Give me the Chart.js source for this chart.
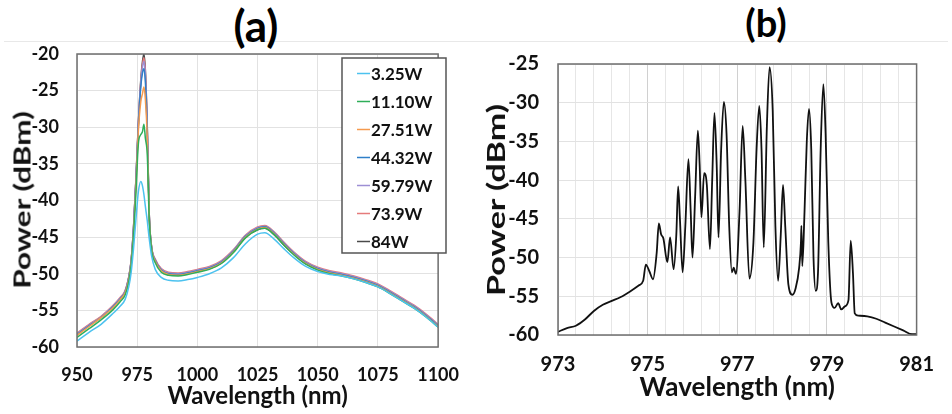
<!DOCTYPE html>
<html>
<head>
<meta charset="utf-8">
<script src="https://cdn.jsdelivr.net/npm/chart.js@4/dist/chart.umd.min.js"></script>
<style>
  body { margin: 0; background: #fff; width: 952px; height: 414px; overflow: hidden; position: relative; font-family: Lato, sans-serif; }
  .panel { position: absolute; top: 0; width: 476px; height: 414px; }
  .ttl { position: absolute; font-weight: 700; line-height: 1; color: #000; transform: translateX(-50%); }
  .ytl { position: absolute; font-weight: 700; line-height: 1; color: #111; white-space: nowrap; }
  .rule { position: absolute; top: 41px; height: 1px; background: #e8e8e8; }
</style>
</head>
<body>
<div class="rule" style="left:4px;width:944px"></div>
<div class="ttl" style="left:256px;top:3px;font-size:44px">(a)</div>
<div class="ttl" style="left:766px;top:3px;font-size:38px">(b)</div>
<div class="panel" style="left:0"><canvas id="chartA"></canvas></div>
<div class="panel" style="left:476px"><canvas id="chartB"></canvas></div>
<div class="ytl" id="ytitleA" style="left:22px;top:200px;font-size:23px;transform:translate(-50%,-50%) rotate(-90deg) scaleX(1.37)">Power (dBm)</div>
<div class="ytl" id="ytitleB" style="left:496px;top:200px;font-size:24px;transform:translate(-50%,-50%) rotate(-90deg) scaleX(1.42)">Power (dBm)</div>
<script>
// (a) spectra at different pump powers
var wlA = [950, 955, 960, 965, 968, 970, 971.5, 972.5, 973.5, 974.5, 975.5, 976.5, 977.2, 977.8, 978.4, 979.2, 980, 981, 982.5, 985, 988, 992, 996, 1000, 1005, 1010, 1015, 1020, 1025, 1028, 1032, 1036, 1040, 1045, 1050, 1055, 1060, 1065, 1070, 1075, 1080, 1085, 1090, 1095, 1100];
var powerLabels = ["3.25W", "11.10W", "27.51W", "44.32W", "59.79W", "73.9W", "84W"];
var powerColors = ["#4cc2ef", "#2fae58", "#f59a4e", "#2f7fc8", "#9d8fd4", "#e57b7b", "#4a4a4a"];
var p325 = [-59.2, -58.0, -56.9, -55.4, -54.4, -53.5, -51.8, -49.8, -46.5, -42.5, -38.8, -37.4, -38.0, -39.2, -40.8, -42.8, -45.2, -47.6, -49.4, -50.5, -50.9, -51.0, -50.8, -50.5, -50.0, -49.2, -47.8, -45.9, -44.6, -44.4, -45.3, -46.6, -47.8, -49.0, -49.7, -50.1, -50.3, -50.7, -51.2, -51.8, -52.7, -53.7, -54.7, -55.9, -57.3];
var p1110 = [-58.7, -57.5, -56.3, -54.9, -53.8, -52.9, -51.1, -48.8, -44.8, -38.8, -32.2, -31.0, -30.6, -29.6, -31.5, -33.8, -42.5, -46.8, -48.5, -49.8, -50.2, -50.3, -50.1, -49.8, -49.4, -48.6, -47.1, -45.1, -44.0, -43.8, -44.7, -46.1, -47.4, -48.7, -49.5, -50.0, -50.3, -50.7, -51.2, -51.8, -52.7, -53.7, -54.7, -55.9, -57.3];
var p2751 = [-58.4, -57.2, -56.0, -54.6, -53.5, -52.6, -50.8, -48.5, -44.3, -37.8, -30.4, -26.5, -25.4, -24.5, -26.2, -31.5, -42.2, -46.6, -48.3, -49.6, -50.1, -50.2, -50.0, -49.7, -49.3, -48.5, -47.0, -45.0, -43.9, -43.7, -44.6, -46.0, -47.3, -48.6, -49.4, -49.9, -50.2, -50.6, -51.1, -51.7, -52.6, -53.6, -54.6, -55.8, -57.2];
var p4432 = [-58.3, -57.1, -56.0, -54.5, -53.4, -52.5, -50.6, -48.3, -43.8, -37.2, -29.8, -24.4, -22.6, -22.0, -23.8, -30.8, -42.0, -46.5, -48.2, -49.5, -50.0, -50.1, -49.9, -49.6, -49.2, -48.4, -46.9, -44.9, -43.8, -43.6, -44.5, -45.9, -47.2, -48.5, -49.3, -49.8, -50.1, -50.5, -51.0, -51.6, -52.5, -53.5, -54.5, -55.7, -57.1];
var p5979 = [-58.2, -57.0, -55.9, -54.4, -53.3, -52.4, -50.5, -48.2, -43.6, -37.0, -29.5, -24.0, -21.8, -21.0, -23.0, -30.5, -41.9, -46.4, -48.1, -49.4, -49.9, -50.0, -49.8, -49.5, -49.1, -48.3, -46.8, -44.8, -43.7, -43.5, -44.4, -45.8, -47.1, -48.4, -49.2, -49.7, -50.0, -50.4, -50.9, -51.5, -52.4, -53.4, -54.4, -55.6, -57.0];
var p739 = [-58.1, -56.9, -55.8, -54.3, -53.2, -52.3, -50.4, -48.1, -43.5, -36.8, -29.3, -23.8, -21.4, -20.5, -22.6, -30.3, -41.8, -46.3, -48.0, -49.3, -49.8, -49.9, -49.7, -49.4, -49.0, -48.2, -46.7, -44.7, -43.6, -43.4, -44.3, -45.7, -47.0, -48.3, -49.1, -49.6, -49.9, -50.3, -50.8, -51.4, -52.3, -53.3, -54.3, -55.5, -56.9];
var p84 = [-58.2, -57.0, -55.9, -54.4, -53.4, -52.4, -50.5, -48.2, -43.6, -37.0, -29.4, -23.5, -21.0, -20.0, -22.2, -30.0, -41.8, -46.4, -48.1, -49.4, -49.9, -50.1, -49.9, -49.7, -49.3, -48.5, -47.0, -45.0, -44.0, -43.8, -44.7, -46.1, -47.3, -48.6, -49.4, -49.9, -50.2, -50.6, -51.1, -51.7, -52.6, -53.6, -54.6, -55.8, -57.2];
var powerSeries = [p325, p1110, p2751, p4432, p5979, p739, p84];
var ticksXA = [950, 975, 1000, 1025, 1050, 1075, 1100];

// (b) multi-wavelength output
var wlB = [973.0, 973.2, 973.4, 973.6, 973.8, 974.0, 974.2, 974.4, 974.6, 974.8, 974.9, 974.96, 975.04, 975.12, 975.2, 975.25, 975.3, 975.35, 975.44, 975.5, 975.58, 975.64, 975.68, 975.72, 975.78, 975.84, 975.91, 975.96, 976.0, 976.06, 976.12, 976.16, 976.2, 976.26, 976.32, 976.39, 976.44, 976.49, 976.54, 976.58, 976.64, 976.7, 976.76, 976.82, 976.88, 976.92, 976.97, 977.05, 977.12, 977.18, 977.27, 977.36, 977.43, 977.49, 977.54, 977.59, 977.66, 977.72, 977.79, 977.85, 977.91, 977.97, 978.02, 978.07, 978.14, 978.23, 978.3, 978.38, 978.42, 978.43, 978.45, 978.5, 978.55, 978.6, 978.65, 978.7, 978.75, 978.8, 978.86, 978.92, 978.97, 979.03, 979.1, 979.17, 979.25, 979.32, 979.4, 979.48, 979.53, 979.58, 979.62, 979.7, 979.9, 980.1, 980.3, 980.5, 980.7, 980.9, 981.0];
var pwrB = [-59.6, -59.1, -58.8, -58.0, -56.9, -56.1, -55.6, -55.1, -54.4, -53.6, -53.0, -50.9, -51.8, -52.8, -49.5, -45.6, -47.0, -47.5, -50.6, -47.4, -51.5, -47.0, -40.8, -45.0, -51.9, -46.0, -37.3, -44.0, -50.0, -42.0, -33.6, -38.0, -44.8, -39.1, -40.6, -48.9, -40.0, -31.3, -38.0, -47.4, -36.0, -29.9, -34.0, -46.0, -51.9, -51.3, -52.1, -44.0, -33.0, -40.0, -52.7, -48.0, -36.0, -30.4, -36.0, -48.7, -33.0, -25.4, -31.0, -46.0, -53.0, -47.0, -40.6, -46.0, -53.5, -54.8, -54.0, -51.3, -48.0, -45.9, -51.1, -44.0, -35.0, -30.8, -36.0, -50.0, -54.3, -52.0, -36.0, -27.6, -34.0, -48.0, -55.8, -56.5, -55.9, -56.7, -56.3, -55.5, -47.8, -52.0, -57.2, -57.5, -57.6, -57.9, -58.4, -58.9, -59.4, -59.9, -59.9];

var FONT = "Lato, 'Open Sans', sans-serif";
var INK = "#111";

function toPoints(xs, ys) {
  return xs.map(function (x, i) { return { x: x, y: ys[i] }; });
}

// dark frame round the plot area
var frame = {
  id: 'frame',
  afterDraw: function (chart) {
    var a = chart.chartArea, ctx = chart.ctx;
    ctx.save();
    ctx.strokeStyle = '#6e6e6e';
    ctx.lineWidth = 1.5;
    ctx.strokeRect(a.left, a.top, a.right - a.left, a.bottom - a.top);
    ctx.restore();
  }
};

// legend box inside panel (a)
var legendBox = {
  id: 'legendBox',
  afterDraw: function (chart) {
    var ctx = chart.ctx;
    ctx.save();
    ctx.fillStyle = '#fff';
    ctx.fillRect(342, 58, 104, 195);
    ctx.strokeStyle = '#555';
    ctx.lineWidth = 1.5;
    ctx.strokeRect(342, 58, 104, 195);
    ctx.font = "bold 17px " + FONT;
    ctx.textBaseline = 'middle';
    chart.data.datasets.forEach(function (ds, i) {
      var y = 73.5 + i * 28;
      ctx.strokeStyle = ds.borderColor;
      ctx.lineWidth = 1.5;
      ctx.beginPath();
      ctx.moveTo(357, y);
      ctx.lineTo(370, y);
      ctx.stroke();
      ctx.fillStyle = INK;
      ctx.fillText(ds.label, 371, y + 1);
    });
    ctx.restore();
  }
};

var datasetsA = powerLabels.map(function (label, i) {
  return {
    label: label,
    data: toPoints(wlA, powerSeries[i]),
    borderColor: powerColors[i],
    borderWidth: 1.5,
    pointRadius: 0,
    cubicInterpolationMode: 'monotone',
    fill: false
  };
});

new Chart(document.getElementById('chartA'), {
  type: 'line',
  data: { datasets: datasetsA },
  options: {
    responsive: true,
    maintainAspectRatio: false,
    animation: false,
    layout: { padding: { left: 0, right: 27, top: 54, bottom: 0 } },
    plugins: { legend: { display: false }, tooltip: { enabled: false } },
    scales: {
      x: {
        type: 'linear', min: 950, max: 1100,
        afterBuildTicks: function (s) { s.ticks = ticksXA.map(function (v) { return { value: v }; }); },
        afterFit: function (s) { s.height = 67; },
        ticks: {
          padding: 17, color: INK, maxRotation: 0, autoSkip: false,
          font: { family: FONT, size: 18, weight: 'bold' },
          callback: function (v) { return String(v); }
        },
        grid: { color: '#e2e2e2', drawTicks: false },
        border: { display: false },
        title: { display: true, text: 'Wavelength (nm)', color: INK, padding: { top: 0, bottom: 3 }, font: { family: FONT, size: 24, weight: 'bold' } }
      },
      y: {
        min: -60, max: -20,
        afterFit: function (s) { s.width = 77; },
        ticks: { stepSize: 5, padding: 18, color: INK, font: { family: FONT, size: 18, weight: 'bold' } },
        grid: { color: '#e2e2e2', drawTicks: false },
        border: { display: false }
      }
    }
  },
  plugins: [frame, legendBox]
});

new Chart(document.getElementById('chartB'), {
  type: 'line',
  data: {
    datasets: [{
      label: 'Output',
      data: toPoints(wlB, pwrB),
      borderColor: '#111',
      borderWidth: 1.8,
      pointRadius: 0,
      cubicInterpolationMode: 'monotone',
      fill: false
    }]
  },
  options: {
    responsive: true,
    maintainAspectRatio: false,
    animation: false,
    layout: { padding: { left: 0, right: 19, top: 64, bottom: 0 } },
    plugins: { legend: { display: false }, tooltip: { enabled: false } },
    scales: {
      x: {
        type: 'linear', min: 973, max: 981,
        afterFit: function (s) { s.height = 79; },
        ticks: {
          stepSize: 0.4, padding: 18, color: INK, maxRotation: 0, autoSkip: false,
          font: { family: FONT, size: 20, weight: 'bold' },
          callback: function (v) {
            var k = Math.round((v - 973) / 0.4);
            return k % 5 === 0 ? String(Math.round(v)) : '';
          }
        },
        grid: {
          drawTicks: false,
          color: function (c) {
            var k = Math.round((c.tick.value - 973) / 0.4);
            return k % 5 === 0 ? '#d0d0d0' : '#e6e6e6';
          }
        },
        border: { display: false },
        title: { display: true, text: 'Wavelength (nm)', color: INK, padding: { top: 0, bottom: 11 }, font: { family: FONT, size: 26, weight: 'bold' } }
      },
      y: {
        min: -60, max: -25,
        afterFit: function (s) { s.width = 82; },
        ticks: { stepSize: 5, padding: 19, color: INK, font: { family: FONT, size: 20, weight: 'bold' } },
        grid: { color: '#e2e2e2', drawTicks: false },
        border: { display: false }
      }
    }
  },
  plugins: [frame]
});
</script>
</body>
</html>
